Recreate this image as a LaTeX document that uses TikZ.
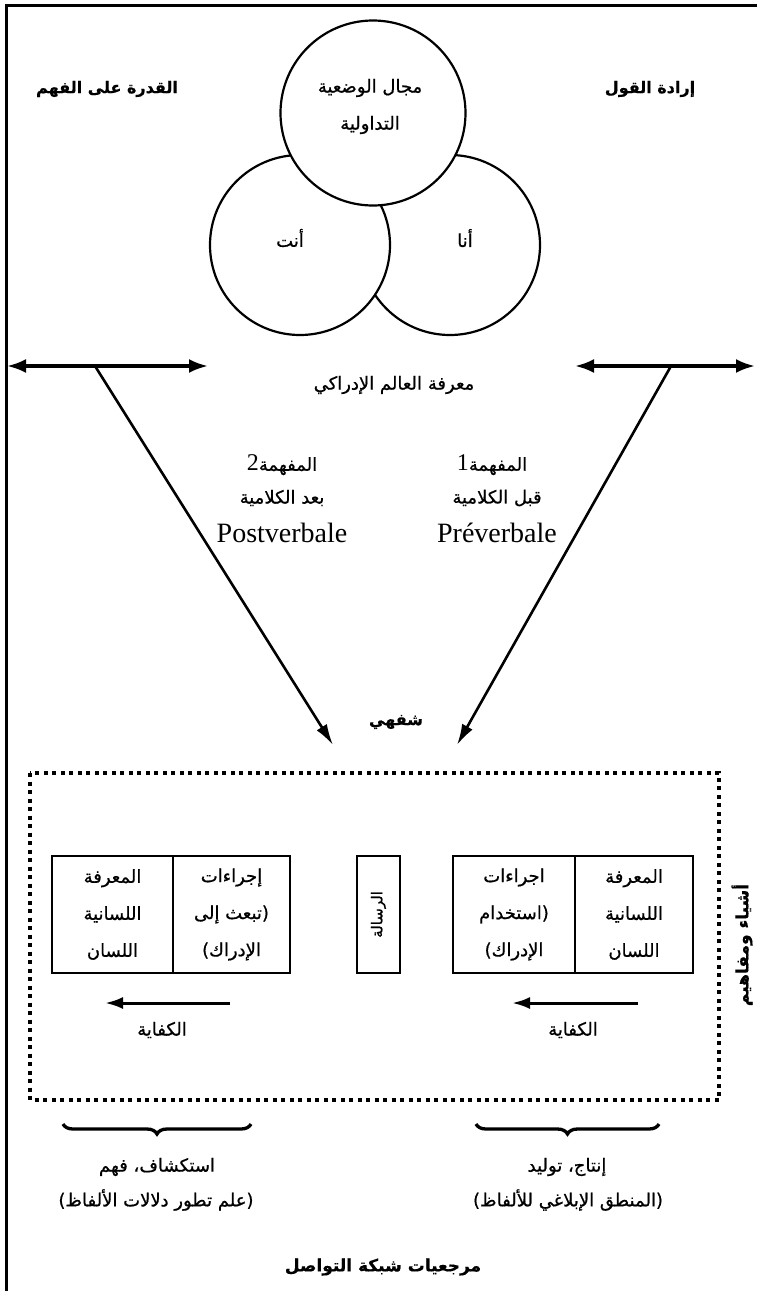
\documentclass[tikz,border=0pt]{standalone}
\usepackage{fontspec}
\setmainfont{Liberation Serif}
\newfontfamily\ar[Script=Arabic,FakeBold=0.7]{DejaVu Sans}
\newfontfamily\arb[Script=Arabic,FakeBold=0.5]{DejaVu Sans Bold}
\TeXXeTstate=1
\usetikzlibrary{arrows.meta,decorations.pathreplacing}
\tikzset{
  circ/.style={circle,draw,fill=white,line width=2.2pt,inner sep=0pt,minimum size=180pt},
  artxt/.style={font=\ar\fontsize{18}{37}\selectfont,align=center,inner sep=0pt},
  arbold/.style={font=\arb\fontsize{16}{20}\selectfont,inner sep=0pt},
  latxt/.style={font=\fontsize{28}{30}\selectfont,inner sep=0pt},
  cell/.style={draw,line width=2.7pt,minimum height=117pt,inner sep=0pt,font=\ar\fontsize{18}{37}\selectfont,align=center},
  dbl/.style={line width=3.3pt,{Latex[length=19pt,width=14pt]}-{Latex[length=19pt,width=14pt]}},
  diag/.style={line width=2.6pt,-{Latex[length=21pt,width=12pt]}},
  kif/.style={line width=3pt,-{Latex[length=18pt,width=12pt]}},
  brc/.style={line width=3.3pt,decorate,decoration={brace,amplitude=10pt}},
  frame/.style={line width=3pt}
}
\begin{document}
\begin{tikzpicture}[x=1pt,y=-1pt]
\useasboundingbox (0,0) rectangle (757,1291);
% frame
\coordinate (f1) at (757,5);
\coordinate (f2) at (6,5);
\coordinate (f3) at (6,1291);
\draw[frame] (f1) -- (f2) -- (f3);
% circles
\node[circ] (cr) at (450,245) {};
\node[circ] (cl) at (300,245) {};
\node[circ,minimum size=185pt] (ct) at (373,113) {};
\node[artxt] (ct1) at (370,88) {\beginR مجال الوضعية\endR};
\node[artxt] (ct2) at (370,125) {\beginR التداولية\endR};
\node[artxt] (anta) at (290,238) {\beginR أنت\endR};
\node[artxt] (ana) at (465,238) {\beginR أنا\endR};
% headers
\node[arbold] (qf) at (107,89) {\beginR القدرة على الفهم\endR};
\node[arbold] (iq) at (650,89) {\beginR إرادة القول\endR};
% double arrows
\coordinate (la1) at (7,366);
\coordinate (la2) at (208,366);
\coordinate (ra1) at (575,366);
\coordinate (ra2) at (755,366);
\draw[dbl] (la1) -- (la2);
\draw[dbl] (ra1) -- (ra2);
\node[artxt] (mw) at (394,385) {\beginR معرفة العالم الإدراكي\endR};
% diagonals
\coordinate (d1s) at (95,366);
\coordinate (d1e) at (333,745);
\coordinate (d2s) at (671,366);
\coordinate (d2e) at (457,745);
\draw[diag] (d1s) -- (d1e);
\draw[diag] (d2s) -- (d2e);
% middle labels
\node[artxt] (m2a) at (282,465) {\beginR المفهمة{\rmfamily\fontsize{24}{26}\selectfont 2}\endR};
\node[artxt] (m2b) at (282,498) {\beginR بعد الكلامية\endR};
\node[latxt] (m2c) at (282,533) {Postverbale};
\node[artxt] (m1a) at (492,465) {\beginR المفهمة{\rmfamily\fontsize{24}{26}\selectfont 1}\endR};
\node[artxt] (m1b) at (497,498) {\beginR قبل الكلامية\endR};
\node[latxt] (m1c) at (497,533) {Préverbale};
\node[arbold] (sh) at (396,722) {\beginR شفهي\endR};
% dotted box
\coordinate (db1) at (30,773);
\coordinate (db2) at (719,1100);
\draw[line width=3.2pt,dash pattern=on 4pt off 4.5pt] (db1) rectangle (db2);
% inner boxes
\node[cell,minimum width=121pt] (lb1) at (112.5,914.5) {\beginR المعرفة\endR\\\beginR اللسانية\endR\\\beginR اللسان\endR};
\node[cell,minimum width=117pt] (lb2) at (231.5,914.5) {\beginR إجراءات\endR\\\beginR (تبعث إلى\endR\\\beginR الإدراك)\endR};
\node[cell,minimum width=43pt] (rs) at (378.5,914.5) {};
\node[artxt,font=\ar\fontsize{15}{16}\selectfont,rotate=90] (rst) at (378.5,914.5) {\beginR الرسالة\endR};
\node[cell,minimum width=122pt] (rb1) at (514,914.5) {\beginR اجراءات\endR\\\beginR (استخدام\endR\\\beginR الإدراك)\endR};
\node[cell,minimum width=118pt] (rb2) at (634,914.5) {\beginR المعرفة\endR\\\beginR اللسانية\endR\\\beginR اللسان\endR};
\node[arbold,font=\arb\fontsize{17}{20}\selectfont,rotate=90] (side) at (742,945) {\beginR أشياء ومفاهيم\endR};
% kifaya arrows
\coordinate (k1s) at (230,1003);
\coordinate (k1e) at (105,1003);
\coordinate (k2s) at (638,1003);
\coordinate (k2e) at (512,1003);
\draw[kif] (k1s) -- (k1e);
\draw[kif] (k2s) -- (k2e);
\node[artxt] (k1t) at (162,1030) {\beginR الكفاية\endR};
\node[artxt] (k2t) at (573,1030) {\beginR الكفاية\endR};
% braces
\coordinate (b1r) at (251,1124);
\coordinate (b1l) at (63,1124);
\coordinate (b2r) at (659,1124);
\coordinate (b2l) at (476,1124);
\draw[brc] (b1r) -- (b1l);
\draw[brc] (b2r) -- (b2l);
\node[artxt] (e1) at (157,1167) {\beginR استكشاف، فهم\endR};
\node[artxt] (e2) at (156,1200) {\beginR (علم تطور دلالات الألفاظ)\endR};
\node[artxt] (p1) at (567,1167) {\beginR إنتاج، توليد\endR};
\node[artxt] (p2) at (568,1200) {\beginR (المنطق الإبلاغي للألفاظ)\endR};
\node[arbold,font=\arb\fontsize{17}{20}\selectfont] (btm) at (383,1267) {\beginR مرجعيات شبكة التواصل\endR};
\end{tikzpicture}
\end{document}
